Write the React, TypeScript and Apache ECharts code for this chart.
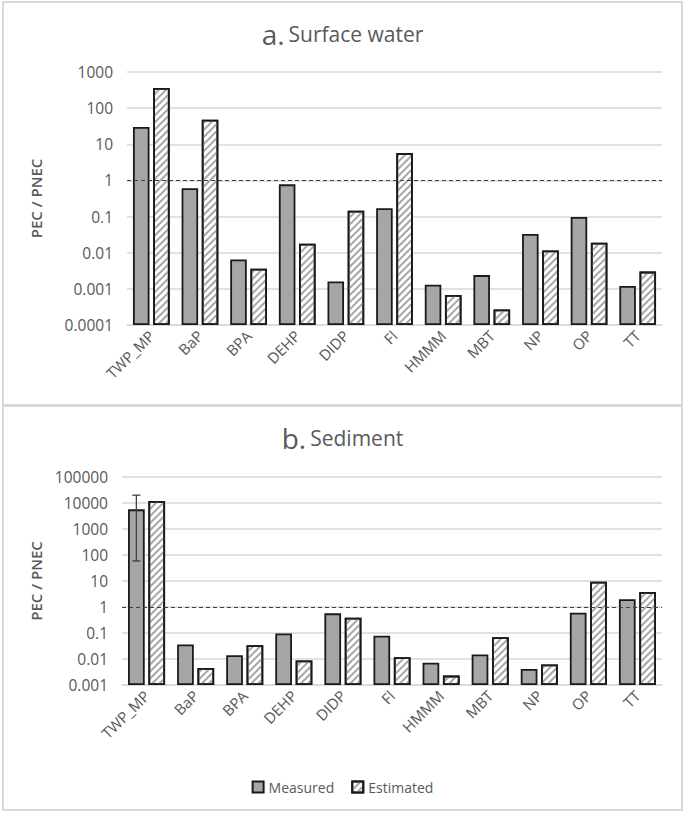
import React, { useEffect, useRef } from "react";
import * as echarts from "echarts";

const categories = ["TWP_MP", "BaP", "BPA", "DEHP", "DIDP", "Fl", "HMMM", "MBT", "NP", "OP", "TT"];
const waterMeasured = [30, 0.61, 0.0065, 0.78, 0.0016, 0.17, 0.0013, 0.0024, 0.033, 0.098, 0.0012];
const waterEstimated = [360, 48, 0.0036, 0.0177, 0.145, 5.7, 0.00068, 0.00027, 0.0115, 0.019, 0.003];
const sedMeasured = [5700, 0.036, 0.014, 0.096, 0.57, 0.078, 0.0072, 0.015, 0.0041, 0.6, 2.0];
const sedEstimated = [12000, 0.0045, 0.034, 0.0087, 0.39, 0.0116, 0.0023, 0.069, 0.0062, 9.3, 3.8];
const sedErrorLow = [59];
const sedErrorHigh = [20000];
const waterTicks = ["0.0001", "0.001", "0.01", "0.1", "1", "10", "100", "1000"];
const sedTicks = ["0.001", "0.01", "0.1", "1", "10", "100", "1000", "10000", "100000"];

const FONT = "'Open Sans', 'Noto Sans', sans-serif";
const TXT = "#595959";
const BAR_W = 0.34;
const BAR_GAP = 0.22;

const tickFormatter = (ticks: string[], minExp: number) => (v: number) => {
  const e = Math.round(Math.log10(v));
  return ticks[e - minExp] ?? "";
};

const measuredStyle = { color: "#a6a6a6", borderColor: "#1a1a1a", borderWidth: 1.8 };
const estimatedStyle = {
  color: "#ffffff",
  borderColor: "#1a1a1a",
  borderWidth: 1.8,
  decal: {
    symbol: "rect",
    symbolSize: 1,
    color: "#a6a6a6",
    backgroundColor: "#ffffff",
    dashArrayX: [1, 0],
    dashArrayY: [2, 3],
    rotation: -Math.PI / 4,
  },
};

const refLine = {
  silent: true,
  symbol: "none",
  label: { show: false },
  lineStyle: { color: "#404040", type: [4, 3], width: 1.2 },
  data: [{ yAxis: 1 }],
};

export default function App() {
  const ref = useRef<HTMLDivElement>(null);
  useEffect(() => {
    if (!ref.current) return;
    const chart = echarts.init(ref.current, null, { renderer: "svg" });
    const catAxis = (gridIndex: number) => ({
      type: "category",
      gridIndex,
      data: categories,
      axisTick: { show: false },
      axisLine: { lineStyle: { color: "#d9d9d9", width: 1.5 } },
      axisLabel: { rotate: 45, interval: 0, color: TXT, fontSize: 15, fontFamily: FONT, margin: 8 },
    });
    const valAxis = (gridIndex: number, min: number, max: number, ticks: string[], minExp: number, nameGap: number) => ({
      type: "log",
      logBase: 10,
      gridIndex,
      min,
      max,
      startValue: min,
      name: "PEC / PNEC",
      nameLocation: "middle",
      nameGap,
      nameTextStyle: { color: TXT, fontSize: 15, fontWeight: 600, fontFamily: FONT },
      axisLine: { show: false },
      axisTick: { show: false },
      splitLine: { lineStyle: { color: "#d9d9d9", width: 1.5 } },
      axisLabel: { color: TXT, fontSize: 15.5, fontFamily: FONT, margin: 14, formatter: tickFormatter(ticks, minExp) },
    });
    const titleRich = {
      big: { fontSize: 28, color: TXT, fontFamily: FONT, fontWeight: "normal", padding: [0, 4, 0, 0] },
      small: { fontSize: 21, color: TXT, fontFamily: FONT, fontWeight: "normal" },
    };
    const barCommon = { type: "bar", barWidth: `${BAR_W * 100}%`, barGap: `${BAR_GAP * 100}%` };
    chart.setOption({
      animation: false,
      backgroundColor: "#ffffff",
      title: [
        { text: "{big|a.}{small|Surface water}", left: "center", top: 15, textStyle: { rich: titleRich } },
        { text: "{big|b.}{small|Sediment}", left: "center", top: 419, textStyle: { rich: titleRich } },
      ],
      graphic: [
        { type: "rect", shape: { x: 3, y: 2, width: 679, height: 403 }, style: { fill: "none", stroke: "#d9d9d9", lineWidth: 2 }, silent: true },
        { type: "rect", shape: { x: 3, y: 406, width: 679, height: 404 }, style: { fill: "none", stroke: "#d9d9d9", lineWidth: 2 }, silent: true },
      ],
      legend: {
        left: "center",
        top: 775,
        itemWidth: 11,
        itemHeight: 11,
        itemGap: 17,
        icon: "rect",
        textStyle: { color: TXT, fontSize: 14, fontFamily: FONT },
        data: ["Measured", "Estimated"],
      },
      grid: [
        { left: 127, right: 23, top: 72, height: 253 },
        { left: 122, right: 23, top: 477, height: 208 },
      ],
      xAxis: [catAxis(0), catAxis(1)],
      yAxis: [
        valAxis(0, 0.0001, 1000, waterTicks, -4, 84),
        valAxis(1, 0.001, 100000, sedTicks, -3, 79),
      ],
      series: [
        { ...barCommon, name: "Measured", xAxisIndex: 0, yAxisIndex: 0, data: waterMeasured, itemStyle: measuredStyle, markLine: refLine },
        { ...barCommon, name: "Estimated", xAxisIndex: 0, yAxisIndex: 0, data: waterEstimated, itemStyle: estimatedStyle },
        { ...barCommon, name: "Measured", xAxisIndex: 1, yAxisIndex: 1, data: sedMeasured, itemStyle: measuredStyle, markLine: refLine },
        { ...barCommon, name: "Estimated", xAxisIndex: 1, yAxisIndex: 1, data: sedEstimated, itemStyle: estimatedStyle },
        {
          type: "custom",
          xAxisIndex: 1,
          yAxisIndex: 1,
          silent: true,
          z: 10,
          data: sedErrorLow.map((lo, i) => [i, lo, sedErrorHigh[i]]),
          renderItem: (params: any, api: any) => {
            const band = api.size([1, 1])[0];
            const bw = band * BAR_W;
            const off = -(bw + bw * BAR_GAP) / 2;
            const lo = api.coord([api.value(0), api.value(1)]);
            const hi = api.coord([api.value(0), api.value(2)]);
            const x = lo[0] + off;
            const cap = 4;
            const style = { stroke: "#404040", lineWidth: 1.3 };
            return {
              type: "group",
              children: [
                { type: "line", shape: { x1: x, y1: lo[1], x2: x, y2: hi[1] }, style },
                { type: "line", shape: { x1: x - cap, y1: lo[1], x2: x + cap, y2: lo[1] }, style },
                { type: "line", shape: { x1: x - cap, y1: hi[1], x2: x + cap, y2: hi[1] }, style },
              ],
            };
          },
        },
      ],
    });
    return () => chart.dispose();
  }, []);
  return <div ref={ref} style={{ position: "fixed", left: 0, top: 0, width: 685, height: 813 }} />;
}
